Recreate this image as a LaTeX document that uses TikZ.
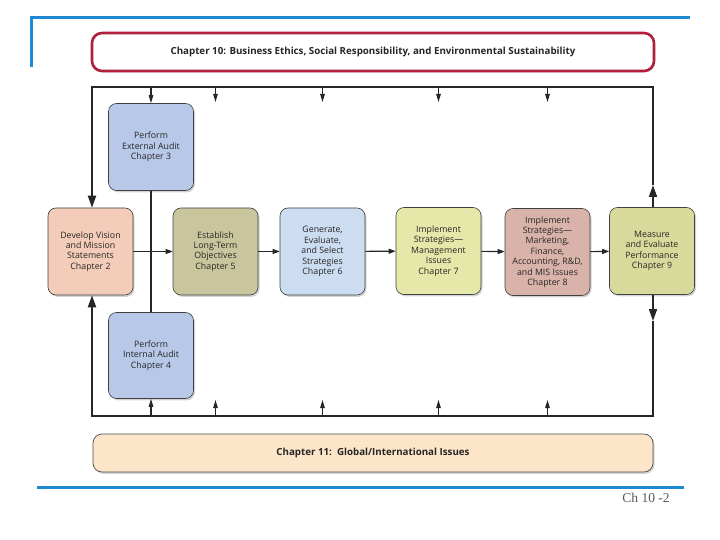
\documentclass[tikz,border=0pt]{standalone}
\usepackage{fontspec}
\setmainfont{Open Sans}
\newfontfamily\serifnum{Liberation Serif}
\usetikzlibrary{arrows.meta,shadows}
\definecolor{bluebar}{HTML}{1F88D2}
\definecolor{redbord}{HTML}{B21F3E}
\definecolor{cDev}{HTML}{F3CDB9}
\definecolor{cEst}{HTML}{C9C69D}
\definecolor{cGen}{HTML}{CCDDF1}
\definecolor{cImpA}{HTML}{E5E8A8}
\definecolor{cImpB}{HTML}{D9B3A9}
\definecolor{cMeas}{HTML}{D8DA9B}
\definecolor{cAudit}{HTML}{B8C8E8}
\definecolor{cGlob}{HTML}{FCE5C9}
\begin{document}
\begin{tikzpicture}[x=1pt,y=-1pt,
  box/.style={draw=black!75, line width=0.6pt, rounded corners=8pt,
    minimum width=85pt, minimum height=87pt, align=center, inner sep=1pt,
    font=\fontsize{8.8}{10.4}\selectfont, text=black!85,
    drop shadow={shadow xshift=1.5pt, shadow yshift=-1.8pt, opacity=0.35}},
  loopline/.style={line width=2pt, draw=black!85},
  flow/.style={line width=1.1pt, draw=black!85, -{Triangle[width=5pt,length=7pt]}},
  tick/.style={line width=1.1pt, draw=black!85, -{Triangle[width=4.5pt,length=8pt]}},
  bigtip/.style={line width=2pt, draw=black!85, -{Triangle[width=8pt,length=12pt]}},
  bluebar/.style={line width=3pt, draw=bluebar}]
\useasboundingbox (0,0) rectangle (720,540);
% blue frame lines
\draw[bluebar] (30,18) -- (690,18);
\draw[bluebar] (31.5,18) -- (31.5,67);
\draw[bluebar] (37,487) -- (684,487);
\node[font=\serifnum\fontsize{13.5}{15}\selectfont, text=black!65, anchor=center] (pg) at (646,498) {Ch 10 -2};
% header box
\node[draw=redbord, line width=2.6pt, rounded corners=10pt, fill=white,
  minimum width=562pt, minimum height=38pt,
  drop shadow={shadow xshift=1pt, shadow yshift=-1.5pt, opacity=0.3},
  font=\bfseries\fontsize{9.75}{11}\selectfont, text=black!85] (ch10) at (373,52)
  {Chapter 10: Business Ethics, Social Responsibility, and Environmental Sustainability};
% global box
\node[draw=black!70, line width=0.7pt, rounded corners=9pt, fill=cGlob,
  minimum width=560pt, minimum height=38pt,
  drop shadow={shadow xshift=1.5pt, shadow yshift=-1.8pt, opacity=0.35},
  font=\bfseries\fontsize{9.75}{11}\selectfont, text=black!85] (ch11) at (373,453)
  {Chapter 11:\ \ Global/International Issues};
% loop corners
\coordinate (TL) at (92,87);
\coordinate (TR) at (653,87);
\coordinate (BL) at (92,416);
\coordinate (BR) at (653,416);
% boxes
\node[box, fill=cAudit] (ext) at (151,147) {Perform\\External Audit\\Chapter 3};
\node[box, fill=cAudit, minimum height=86pt] (int) at (151,355.5) {Perform\\Internal Audit\\Chapter 4};
\draw[line width=1.1pt, black!85] (ext.south) -- (int.north);
\node[box, fill=cDev] (dev) at (90.5,251.5) {Develop Vision\\and Mission\\Statements\\Chapter 2};
\node[box, fill=cEst] (est) at (215.5,251.5) {Establish\\Long-Term\\Objectives\\Chapter 5};
\node[box, fill=cGen] (gen) at (322.5,251.5) {Generate,\\Evaluate,\\and Select\\Strategies\\Chapter 6};
\node[box, fill=cImpA] (impa) at (438.5,251) {Implement\\Strategies---\\Management\\Issues\\Chapter 7};
\node[box, fill=cImpB] (impb) at (547.5,252) {Implement\\Strategies---\\Marketing,\\Finance,\\Accounting, R\&D,\\and MIS Issues\\Chapter 8};
\node[box, fill=cMeas] (meas) at (652,251) {Measure\\and Evaluate\\Performance\\Chapter 9};
% main flow
\draw[flow] (dev) -- (est);
\draw[flow] (est) -- (gen);
\draw[flow] (gen) -- (impa);
\draw[flow] (impa) -- (impb);
\draw[flow] (impb) -- (meas);
% feedback loop
\coordinate (mt) at (653,185);
\coordinate (mb) at (653,321);
\draw[bigtip] (meas.north -| TR) -- (mt);
\draw[bigtip] (meas.south -| BR) -- (mb);
\draw[loopline, line join=miter] (mt) -- (TR) -- (TL) -- ++(0,100);
\draw[loopline, line join=miter] (mb) -- (BR) -- (BL) -- ++(0,-100);
\draw[bigtip] (TL) ++(0,98) -- (dev.north -| TL);
\draw[bigtip] (BL) ++(0,-98) -- (dev.south -| BL);
% ticks from top line
\draw[tick] (ext.north |- TL) -- (ext.north);
\draw[tick] (est.north |- TL) -- ++(0,15);
\draw[tick] (gen.north |- TL) -- ++(0,15);
\draw[tick] (impa.north |- TL) -- ++(0,15);
\draw[tick] (impb.north |- TL) -- ++(0,15);
% ticks from bottom line
\draw[tick] (int.south |- BL) -- (int.south);
\draw[tick] (est.south |- BL) -- ++(0,-16);
\draw[tick] (gen.south |- BL) -- ++(0,-16);
\draw[tick] (impa.south |- BL) -- ++(0,-16);
\draw[tick] (impb.south |- BL) -- ++(0,-16);
\end{tikzpicture}
\end{document}
